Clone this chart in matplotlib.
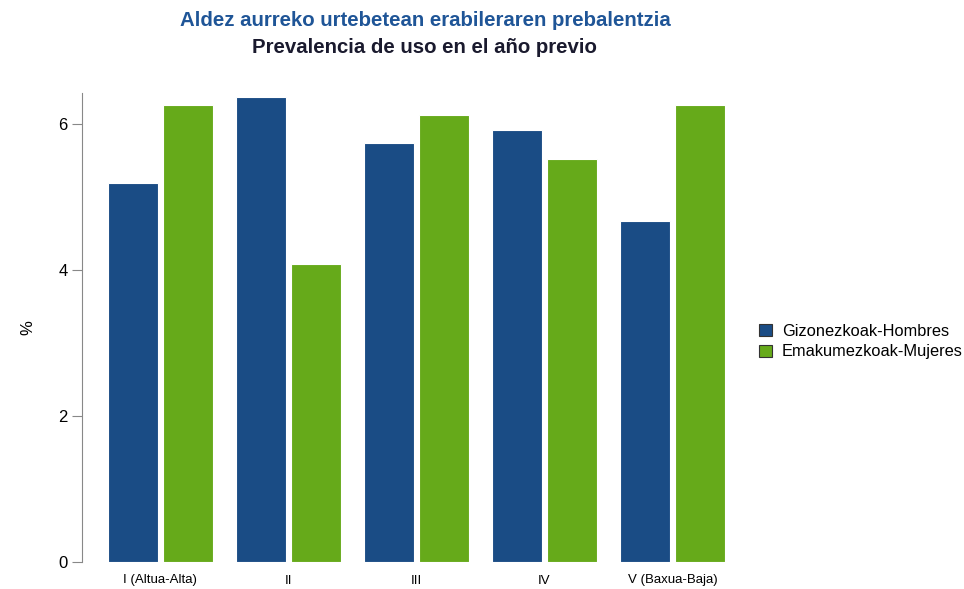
import numpy as np
import matplotlib
matplotlib.use("Agg")
import matplotlib.pyplot as plt

plt.rcParams['font.family'] = ['Liberation Sans', 'DejaVu Sans']

categories = ['I (Altua-Alta)', 'II', 'III', 'IV', 'V (Baxua-Baja)']
hombres = [5.19, 6.37, 5.74, 5.92, 4.67]
mujeres = [6.26, 4.08, 6.12, 5.51, 6.26]
series_labels = ['Gizonezkoak-Hombres', 'Emakumezkoak-Mujeres']

blue = '#1a4c85'
green = '#66aa1a'

fig = plt.figure(figsize=(9.64, 5.89), dpi=100)
ax = fig.add_axes([82/964, 27/589, (725-82)/964, (562-93)/589])

x = np.arange(len(categories))
w = 0.39
ax.bar(x - 0.215, hombres, w, color=blue, edgecolor='white', linewidth=0.8, label=series_labels[0])
ax.bar(x + 0.215, mujeres, w, color=green, edgecolor='white', linewidth=0.8, label=series_labels[1])

ax.set_xlim(-0.61, 4.41)
ax.set_ylim(0, 6.42)
ax.set_yticks([0, 2, 4, 6])
ax.set_xticks(x)
ax.set_xticklabels(categories, fontsize=9.5)
ax.tick_params(axis='x', length=0, pad=9)
ax.tick_params(axis='y', labelsize=12, color='#888888', length=7)

for s in ['top', 'right', 'bottom']:
    ax.spines[s].set_visible(False)
ax.spines['left'].set_color('#888888')

ax.set_ylabel('%', fontsize=12, labelpad=16)

fig.text(0.441, 0.966, 'Aldez aurreko urtebetean erabileraren prebalentzia',
         ha='center', va='center', fontsize=14.7, fontweight='bold', color='#1f5597')
fig.text(0.440, 0.919, 'Prevalencia de uso en el año previo',
         ha='center', va='center', fontsize=14.7, fontweight='bold', color='#1a1a2e')

leg = fig.legend(loc='center left', bbox_to_anchor=(0.772, 0.42), frameon=False,
                 fontsize=11.8, handlelength=0.8, handleheight=0.8, handletextpad=0.6,
                 labelspacing=0.35)
for h in leg.legend_handles:
    h.set_edgecolor('#333333')
    h.set_linewidth(0.8)

fig.savefig('out.png', dpi=100)
